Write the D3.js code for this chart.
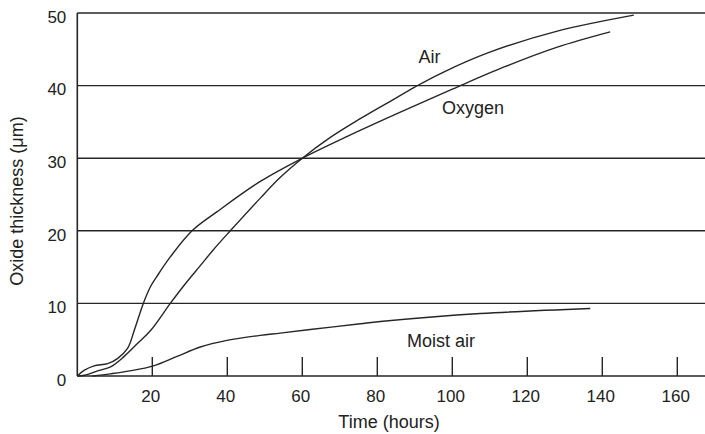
<!DOCTYPE html>
<html>
<head>
<meta charset="utf-8">
<script src="https://cdn.jsdelivr.net/npm/d3@7"></script>
<style>
  html, body { margin: 0; padding: 0; background: #fff; }
  svg text { font-family: "Liberation Sans", Arial, Helvetica, sans-serif; fill: #222; }
</style>
</head>
<body>
<svg id="chart" width="705" height="434"></svg>
<script>
// ---- data ----
const xTicks = [20, 40, 60, 80, 100, 120, 140, 160];
const yTicks = [0, 10, 20, 30, 40, 50];

const airTime  = [0, 1.9, 5.4, 9, 12.5, 16.1, 19.6, 24.8, 28.5, 32.8, 36.3, 40.8, 48.8, 54, 60, 67, 75, 83, 90, 97, 110, 128, 148.4];
const airValue = [0, 0.1, 0.7, 1.3, 2.7, 4.5, 6.3, 10, 12.5, 15.2, 17.4, 20, 24.5, 27.3, 30, 32.7, 35.3, 37.7, 39.8, 41.7, 44.6, 47.5, 49.7];

const oxyTime  = [0, 1.9, 4.5, 8.1, 10.7, 13.4, 15.2, 17.6, 19.5, 21.2, 24.8, 30.6, 37.2, 48.8, 60, 72, 86, 100, 114, 128, 142.1];
const oxyValue = [0, 0.8, 1.4, 1.7, 2.4, 3.8, 6.3, 10, 12.3, 13.7, 16.4, 20, 22.6, 26.8, 30, 33, 36.3, 39.5, 42.6, 45.3, 47.4];

const moistTime  = [4, 8.8, 14, 20.3, 26.6, 32.8, 39.9, 48.8, 54.1, 62.1, 75.5, 80.8, 107.5, 136.8];
const moistValue = [0, 0.3, 0.7, 1.4, 2.7, 4.0, 4.9, 5.6, 5.9, 6.4, 7.2, 7.5, 8.6, 9.3];

const seriesNames = ["Air", "Oxygen", "Moist air"];
const yTitle = "Oxide thickness (\u03bcm)";
const xTitle = "Time (hours)";

// ---- layout ----
const svg = d3.select("#chart");
const x = d3.scaleLinear().domain([0, 160]).range([77.3, 677.3]);
const y = d3.scaleLinear().domain([0, 50]).range([376, 13]);
const rightEdge = 705;
const ink = "#262626";

// horizontal grid lines
svg.append("g").selectAll("line").data(yTicks).join("line")
  .attr("x1", x(0)).attr("x2", rightEdge)
  .attr("y1", d => y(d)).attr("y2", d => y(d))
  .attr("stroke", ink).attr("stroke-width", 1.4);

// left axis line
svg.append("line")
  .attr("x1", x(0)).attr("x2", x(0)).attr("y1", y(50)).attr("y2", y(0))
  .attr("stroke", ink).attr("stroke-width", 1.6);

// y axis labels via d3 axis
const yAxis = svg.append("g").attr("transform", `translate(${x(0)},0)`)
  .call(d3.axisLeft(y).tickValues(yTicks).tickSize(0).tickPadding(11));
yAxis.select(".domain").remove();
yAxis.selectAll("text").attr("font-size", 17).attr("dy", "0.55em")
  .style("font-family", '"Liberation Sans", Arial, sans-serif').attr("fill", ink);

// x axis: upward ticks
const xAxis = svg.append("g").attr("transform", `translate(0,${y(0)})`)
  .call(d3.axisBottom(x).tickValues(xTicks).tickSize(0).tickPadding(14));
xAxis.select(".domain").remove();
xAxis.selectAll("text").attr("font-size", 17).attr("dy", "0.71em").attr("dx", -2)
  .style("font-family", '"Liberation Sans", Arial, sans-serif').attr("fill", ink);
svg.append("g").selectAll("line").data(xTicks).join("line")
  .attr("x1", d => x(d)).attr("x2", d => x(d))
  .attr("y1", y(0)).attr("y2", y(0) - 19)
  .attr("stroke", ink).attr("stroke-width", 1.4);

// curves
const line = d3.line().x(d => x(d[0])).y(d => y(d[1])).curve(d3.curveCatmullRom.alpha(0.5));
const zip = (a, b) => a.map((t, i) => [t, b[i]]);
[[airTime, airValue], [oxyTime, oxyValue], [moistTime, moistValue]].forEach(([t, v]) => {
  svg.append("path").datum(zip(t, v)).attr("d", line)
    .attr("fill", "none").attr("stroke", ink).attr("stroke-width", 1.4);
});

// series labels
const labelPos = [[93.9, 43.1], [105.5, 36.1], [97, 4.0]];
seriesNames.forEach((n, i) => {
  svg.append("text").attr("x", x(labelPos[i][0])).attr("y", y(labelPos[i][1]))
    .attr("font-size", 18).attr("text-anchor", "middle").text(n);
});

// axis titles
svg.append("text").attr("x", 389).attr("y", 428).attr("font-size", 18)
  .attr("text-anchor", "middle").text(xTitle);
svg.append("text").attr("transform", "translate(23,201) rotate(-90)")
  .attr("font-size", 18).attr("text-anchor", "middle").text(yTitle);
</script>
</body>
</html>
